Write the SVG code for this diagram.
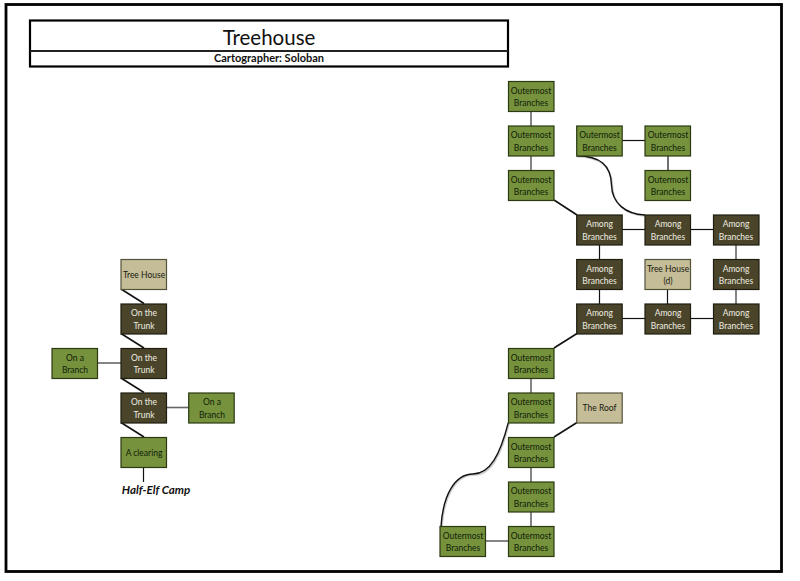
<svg xmlns="http://www.w3.org/2000/svg" width="800" height="581" viewBox="0 0 800 581">
<style>
text{font-family:Lato,"Open Sans","Liberation Sans",sans-serif;font-size:8.500px;text-anchor:middle}
.b{stroke-width:1.2}
.o rect{fill:#76923c;stroke:#2b3a12}
.o text{fill:#10200a}
.a rect{fill:#4a452a;stroke:#1e1d10}
.a text{fill:#eeece1}
.t rect{fill:#c4bd97;stroke:#55523a}
.t text{fill:#1a1a10}
.c line{stroke:#111;stroke-width:1.2}
.c line.g{stroke:#666;stroke-width:1.6}
.c line.d{stroke-width:1.6}
.c path{fill:none;stroke:#111;stroke-width:1.4}
.c path.s{stroke:#ccc;stroke-width:1.6}
</style>
<rect width="800" height="581" fill="#fff"/>
<rect x="6" y="4.500" width="775.500" height="567" fill="none" stroke="#000" stroke-width="2.800"/>
<g id="title">
<rect x="30" y="20.500" width="478" height="46" fill="#fff" stroke="#000" stroke-width="2.200"/>
<line x1="30" y1="51" x2="508" y2="51" stroke="#222" stroke-width="1.800"/>
<text x="269" y="44.500" style="font-size:20.500px" fill="#111">Treehouse</text>
<text x="269" y="62" style="font-size:11px;font-weight:700" fill="#111">Cartographer: Soloban</text>
</g>
<g id="connectors" class="c">
<line class="g" x1="531" y1="111" x2="531" y2="126"/>
<line class="g" x1="531" y1="156" x2="531" y2="170"/>
<line class="d" x1="554" y1="200" x2="577" y2="215"/>
<line x1="622" y1="140.500" x2="645" y2="140.500"/>
<line x1="668" y1="156" x2="668" y2="170"/>
<path class="s" d="M576.700 156.700C600 157 612 166 612.500 186C613 204 626 215 645 216"/>
<path d="M576.700 155.700C600 156 611 165 611.500 185C612 203 625 214 645 215"/>
<line x1="622" y1="229.500" x2="645" y2="229.500"/>
<line x1="691" y1="229.500" x2="714" y2="229.500"/>
<line x1="599.500" y1="245" x2="599.500" y2="259"/>
<line class="g" x1="736" y1="245" x2="736" y2="259"/>
<line x1="599.500" y1="289" x2="599.500" y2="304"/>
<line x1="667.500" y1="289" x2="667.500" y2="304"/>
<line class="g" x1="736" y1="289" x2="736" y2="304"/>
<line x1="622" y1="318.500" x2="645" y2="318.500"/>
<line x1="691" y1="318.500" x2="714" y2="318.500"/>
<line class="d" x1="577" y1="333.500" x2="554" y2="348"/>
<line class="g" x1="531" y1="378" x2="531" y2="393"/>
<line class="d" x1="554" y1="437" x2="577" y2="422.500"/>
<path class="s" d="M509 423.700C501 456 491 475 474 475C456 475 444 496 442 527"/>
<path d="M508.300 422.700C500 455 490 474 473 474C455 474 443 495 441 526.500"/>
<line class="g" x1="531" y1="467" x2="531" y2="482"/>
<line class="g" x1="531" y1="511.500" x2="531" y2="526"/>
<line class="g" x1="486" y1="541" x2="508" y2="541"/>
<line class="d" x1="121" y1="289" x2="144" y2="303.500"/>
<line class="d" x1="121" y1="333.500" x2="144" y2="348"/>
<line class="d" x1="121" y1="378" x2="144" y2="392.500"/>
<line class="d" x1="121" y1="422.500" x2="144" y2="437"/>
<line class="g" x1="98" y1="363" x2="121" y2="363"/>
<line class="g" x1="166" y1="407.500" x2="189" y2="407.500"/>
<line x1="143.500" y1="467" x2="143.500" y2="482"/>
</g>
<g id="n1" class="o"><rect class="b" x="508.500" y="81.500" width="45.500" height="30"/><text x="531" y="93.500">Outermost</text><text x="531" y="106">Branches</text></g>
<g id="n2" class="o"><rect class="b" x="508.500" y="126" width="45.500" height="30"/><text x="531" y="138">Outermost</text><text x="531" y="150.500">Branches</text></g>
<g id="n3" class="o"><rect class="b" x="508.500" y="170.500" width="45.500" height="30"/><text x="531" y="182.500">Outermost</text><text x="531" y="195">Branches</text></g>
<g id="n4" class="o"><rect class="b" x="576.700" y="126" width="45.500" height="30"/><text x="599.500" y="138">Outermost</text><text x="599.500" y="150.500">Branches</text></g>
<g id="n5" class="o"><rect class="b" x="645" y="126" width="45.500" height="30"/><text x="668" y="138">Outermost</text><text x="668" y="150.500">Branches</text></g>
<g id="n6" class="o"><rect class="b" x="645" y="170.500" width="45.500" height="30"/><text x="668" y="182.500">Outermost</text><text x="668" y="195">Branches</text></g>
<g id="n7" class="a"><rect class="b" x="576.700" y="215" width="45.500" height="30"/><text x="599.500" y="227">Among</text><text x="599.500" y="239.500">Branches</text></g>
<g id="n8" class="a"><rect class="b" x="645" y="215" width="45.500" height="30"/><text x="668" y="227">Among</text><text x="668" y="239.500">Branches</text></g>
<g id="n9" class="a"><rect class="b" x="713.500" y="215" width="45.500" height="30"/><text x="736" y="227">Among</text><text x="736" y="239.500">Branches</text></g>
<g id="n10" class="a"><rect class="b" x="576.700" y="259.500" width="45.500" height="30"/><text x="599.500" y="271.500">Among</text><text x="599.500" y="284">Branches</text></g>
<g id="n11" class="t"><rect class="b" x="645" y="259.500" width="45.500" height="30"/><text x="668" y="271.500">Tree House</text><text x="668" y="284">(d)</text></g>
<g id="n12" class="a"><rect class="b" x="713.500" y="259.500" width="45.500" height="30"/><text x="736" y="271.500">Among</text><text x="736" y="284">Branches</text></g>
<g id="n13" class="a"><rect class="b" x="576.700" y="304" width="45.500" height="30"/><text x="599.500" y="316">Among</text><text x="599.500" y="328.500">Branches</text></g>
<g id="n14" class="a"><rect class="b" x="645" y="304" width="45.500" height="30"/><text x="668" y="316">Among</text><text x="668" y="328.500">Branches</text></g>
<g id="n15" class="a"><rect class="b" x="713.500" y="304" width="45.500" height="30"/><text x="736" y="316">Among</text><text x="736" y="328.500">Branches</text></g>
<g id="n16" class="o"><rect class="b" x="508.500" y="348.500" width="45.500" height="30"/><text x="531" y="360.500">Outermost</text><text x="531" y="373">Branches</text></g>
<g id="n17" class="o"><rect class="b" x="508.500" y="393" width="45.500" height="30"/><text x="531" y="405">Outermost</text><text x="531" y="417.500">Branches</text></g>
<g id="n18" class="t"><rect class="b" x="576.700" y="393" width="45.500" height="30"/><text x="599.500" y="411">The Roof</text></g>
<g id="n19" class="o"><rect class="b" x="508.500" y="437.500" width="45.500" height="30"/><text x="531" y="449.500">Outermost</text><text x="531" y="462">Branches</text></g>
<g id="n20" class="o"><rect class="b" x="508.500" y="482" width="45.500" height="30"/><text x="531" y="494">Outermost</text><text x="531" y="506.500">Branches</text></g>
<g id="n21" class="o"><rect class="b" x="508.500" y="526.500" width="45.500" height="30"/><text x="531" y="538.500">Outermost</text><text x="531" y="551">Branches</text></g>
<g id="n22" class="o"><rect class="b" x="440" y="526.500" width="45.500" height="30"/><text x="463" y="538.500">Outermost</text><text x="463" y="551">Branches</text></g>
<g id="n23" class="t"><rect class="b" x="121" y="259.500" width="45.500" height="30"/><text x="144" y="277.500">Tree House</text></g>
<g id="n24" class="a"><rect class="b" x="121" y="304" width="45.500" height="30"/><text x="144" y="316">On the</text><text x="144" y="328.500">Trunk</text></g>
<g id="n25" class="a"><rect class="b" x="121" y="348.500" width="45.500" height="30"/><text x="144" y="360.500">On the</text><text x="144" y="373">Trunk</text></g>
<g id="n26" class="a"><rect class="b" x="121" y="393" width="45.500" height="30"/><text x="144" y="405">On the</text><text x="144" y="417.500">Trunk</text></g>
<g id="n27" class="o"><rect class="b" x="121" y="437.500" width="45.500" height="30"/><text x="144" y="455.500">A clearing</text></g>
<g id="n28" class="o"><rect class="b" x="52" y="348.500" width="45.500" height="30"/><text x="75" y="360.500">On a</text><text x="75" y="373">Branch</text></g>
<g id="n29" class="o"><rect class="b" x="188.700" y="393" width="45.500" height="30"/><text x="212" y="405">On a</text><text x="212" y="417.500">Branch</text></g>
<g id="label"><text x="156" y="494" style="font-size:11.600px;font-weight:700;font-style:italic" fill="#111">Half-Elf Camp</text></g>
</svg>
